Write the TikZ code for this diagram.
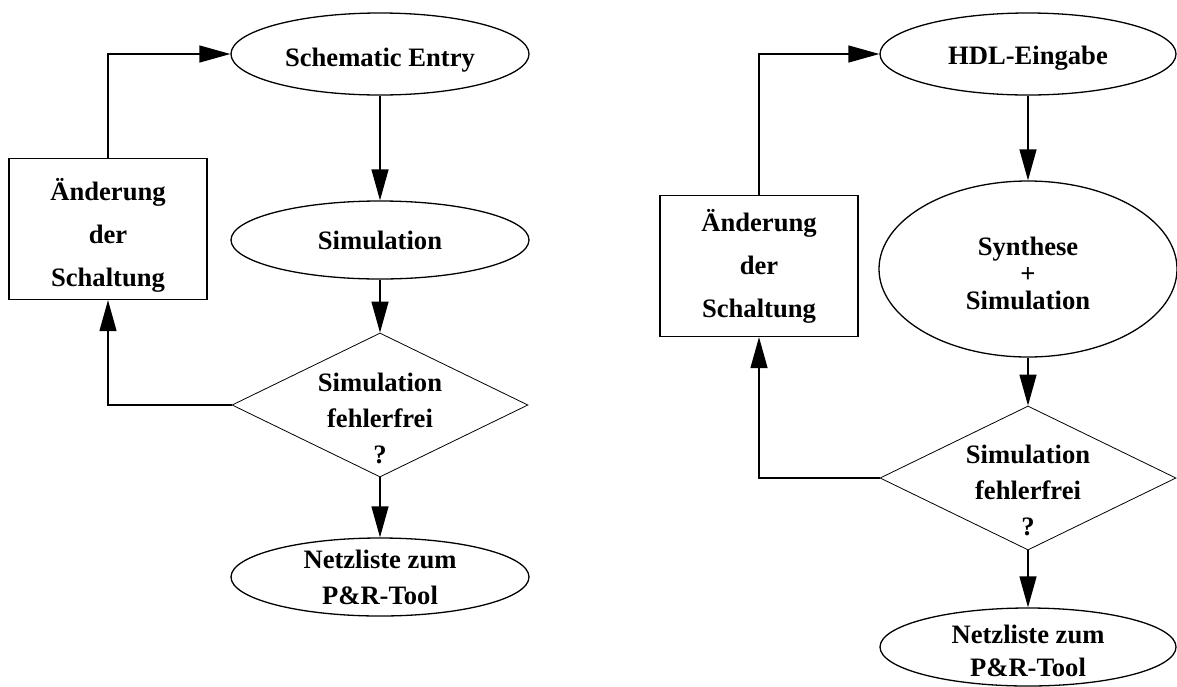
\documentclass[tikz,border=0pt]{standalone}
\usepackage{fontspec}
\setmainfont{Liberation Serif}
\usetikzlibrary{shapes.geometric,arrows.meta}

\tikzset{
  txt/.style={font=\fontsize{26.6}{36}\selectfont\bfseries, align=center, inner sep=0pt},
  boxtxt/.style={font=\fontsize{26.6}{43}\selectfont\bfseries, align=center, inner sep=0pt},
  oval/.style={ellipse, draw, line width=1.3pt, inner sep=0pt, minimum width=298pt, minimum height=#1},
  oval/.default=80pt,
  decision/.style={diamond, draw, line width=0.8pt, inner sep=0pt, minimum width=296pt, minimum height=144pt},
  box/.style={rectangle, draw, line width=1.3pt, inner sep=0pt, minimum width=198pt, minimum height=141pt},
  flow/.style={line width=1.3pt, -{Triangle[length=31pt,width=17pt]}},
  % text placed at the centre of a shape, moved down by #2
  inlabel/.style 2 args={label={[txt,anchor=center,yshift=-#2]center:{#1}}},
  boxlabel/.style 2 args={label={[boxtxt,anchor=center,yshift=-#2]center:{#1}}}
}

\begin{document}
\begin{tikzpicture}[x=1pt,y=-1pt]
  \useasboundingbox (0,0) rectangle (1177,686);

  % ---- schematic flow ----
  \node[oval=82pt, inlabel={Schematic Entry}{6pt}] (e1l) at (380,54) {};
  \node[oval=78pt, inlabel={Simulation}{0pt}] (e2l) at (380,240) {};
  \node[decision, inlabel={Simulation\\fehlerfrei\\?}{13pt}] (d1l) at (380,405) {};
  \node[oval=78pt, inlabel={Netzliste zum\\P\&R-Tool}{0pt}] (e3l) at (380,577) {};
  \node[box, boxlabel={Änderung\\der\\Schaltung}{6pt}] (r1l) at (108,229) {};

  \draw[flow] (e1l) -- (e2l);
  \draw[flow] (e2l) -- (d1l);
  \draw[flow] (d1l) -- (e3l);
  \draw[flow] (d1l.west) -| (r1l.south);
  \draw[flow] (r1l.north) |- (e1l.west);

  % ---- HDL flow ----
  \node[oval=82pt, minimum width=296pt, inlabel={HDL-Eingabe}{4pt}] (e1r) at (1028,54) {};
  \node[oval=176pt, inlabel={Synthese\\[-9pt]+\\[-9pt]Simulation}{4pt}] (e2r) at (1028,269) {};
  \node[decision, inlabel={Simulation\\fehlerfrei\\?}{12pt}] (d2r) at (1028,478) {};
  \node[oval=78pt, minimum width=296pt, inlabel={Netzliste zum\\[-3pt]P\&R-Tool}{4pt}] (e3r) at (1028,647) {};
  \node[box, boxlabel={Änderung\\der\\Schaltung}{0pt}] (r1r) at (759,266) {};

  \draw[flow] (e1r) -- (e2r);
  \draw[flow] (e2r) -- (d2r);
  \draw[flow] (d2r) -- (e3r);
  \draw[flow] (d2r.west) -| (r1r.south);
  \draw[flow] (r1r.north) |- (e1r.west);
\end{tikzpicture}
\end{document}
